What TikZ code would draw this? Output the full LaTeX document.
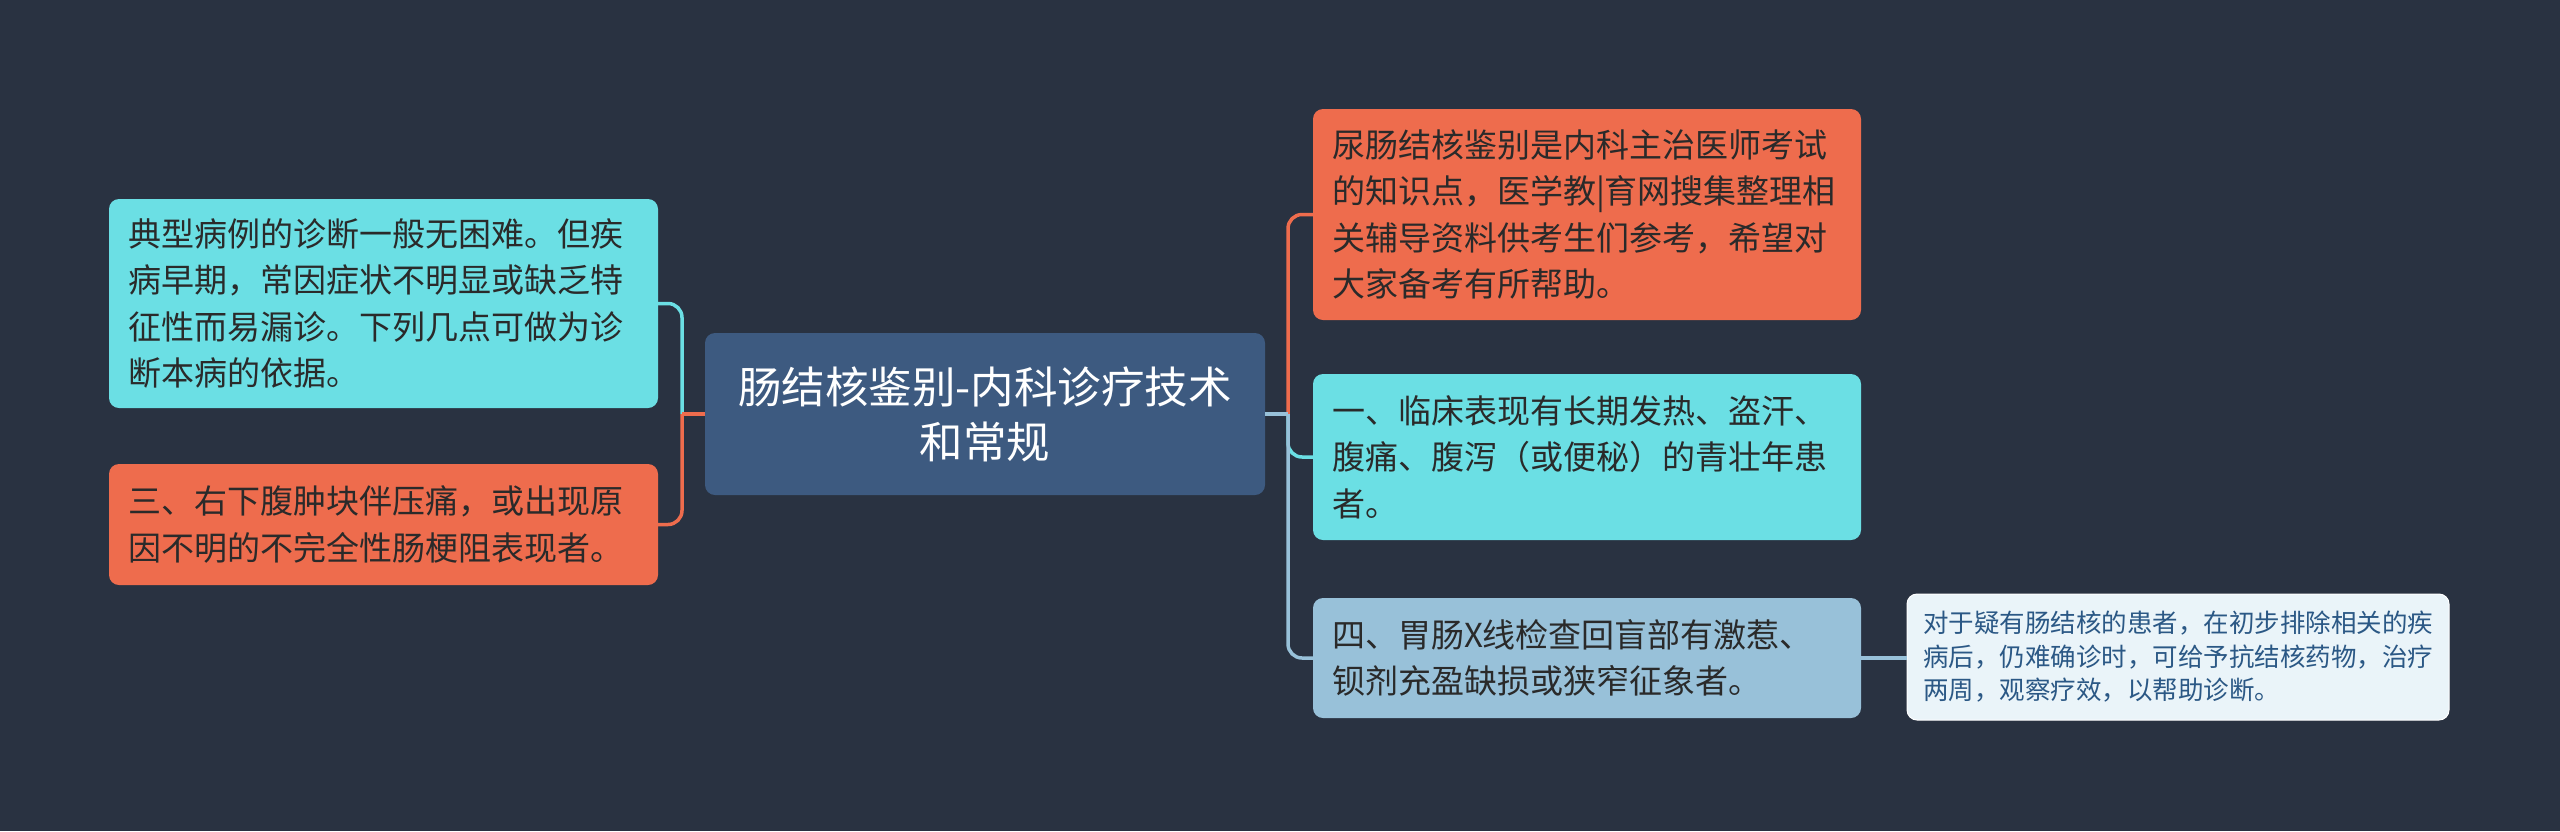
\documentclass[tikz,border=0pt]{standalone}
\usepackage{fontspec}
\newfontfamily\cjk{Noto Sans CJK SC}
\definecolor{bg}{HTML}{293241}
\definecolor{cyanb}{HTML}{6BDFE4}
\definecolor{orangeb}{HTML}{EE6C4D}
\definecolor{centerb}{HTML}{3D5A80}
\definecolor{blueb}{HTML}{98C1D9}
\definecolor{paleb}{HTML}{EAF4F9}
\definecolor{txt}{HTML}{2A2A2A}
\definecolor{paletxt}{HTML}{2B5885}
\begin{document}
\begin{tikzpicture}[x=1pt,y=-1pt,
  box/.style={rounded corners=10pt,inner xsep=19pt,inner ysep=0pt,align=left,anchor=center,
    text=txt,font=\cjk\fontsize{33}{46.5}\selectfont},
  conn/.style={line width=3.5pt},
]
\useasboundingbox[fill=bg] (0,0) rectangle (2560,831);

\node[box,fill=centerb,text=white,align=center,minimum width=560pt,minimum height=162pt,
  text width=540pt,inner xsep=10pt,font=\cjk\fontsize{43.5}{55}\selectfont] (C) at (985,414)
  {肠结核鉴别-内科诊疗技术\\和常规};

\node[box,fill=cyanb,minimum width=549pt,minimum height=209pt,text width=511pt] (L1) at (383.5,303.5)
  {典型病例的诊断一般无困难。但疾\\病早期，常因症状不明显或缺乏特\\征性而易漏诊。下列几点可做为诊\\断本病的依据。};
\node[box,fill=orangeb,minimum width=549pt,minimum height=121pt,text width=511pt] (L2) at (383.5,524.5)
  {三、右下腹肿块伴压痛，或出现原\\因不明的不完全性肠梗阻表现者。};

\node[box,fill=orangeb,minimum width=548pt,minimum height=211pt,text width=510pt] (R1) at (1587,214.5)
  {尿肠结核鉴别是内科主治医师考试\\的知识点，医学教|育网搜集整理相\\关辅导资料供考生们参考，希望对\\大家备考有所帮助。};
\node[box,fill=cyanb,minimum width=548pt,minimum height=166pt,text width=510pt] (R2) at (1587,457)
  {一、临床表现有长期发热、盗汗、\\腹痛、腹泻（或便秘）的青壮年患\\者。};
\node[box,fill=blueb,minimum width=548pt,minimum height=120pt,text width=510pt] (R3) at (1587,658)
  {四、胃肠X线检查回盲部有激惹、\\钡剂充盈缺损或狭窄征象者。};

\node[box,fill=paleb,draw=white,line width=1pt,text=paletxt,inner xsep=16pt,minimum width=542pt,minimum height=126pt,
  text width=510pt,font=\cjk\fontsize{25.5}{33.5}\selectfont] (FR) at (2178,657)
  {对于疑有肠结核的患者，在初步排除相关的疾\\病后，仍难确诊时，可给予抗结核药物，治疗\\两周，观察疗效，以帮助诊断。};

\coordinate (jl) at (682,414);
\coordinate (jr) at (1288,414);

\draw[conn,cyanb,rounded corners=14pt] (jl) |- (L1.east);
\draw[conn,orangeb,rounded corners=14pt] (jl) |- (L2.east);
\draw[conn,orangeb] (C.west) -- (jl);

\draw[conn,orangeb,rounded corners=14pt] (jr) |- (R1.west);
\draw[conn,cyanb,rounded corners=14pt] (jr) |- (R2.west);
\draw[conn,blueb,rounded corners=14pt] (jr) |- (R3.west);
\draw[conn,blueb] (C.east) -- (jr);

\draw[conn,blueb] (R3.east) -- (FR.west |- R3.east);
\end{tikzpicture}
\end{document}
